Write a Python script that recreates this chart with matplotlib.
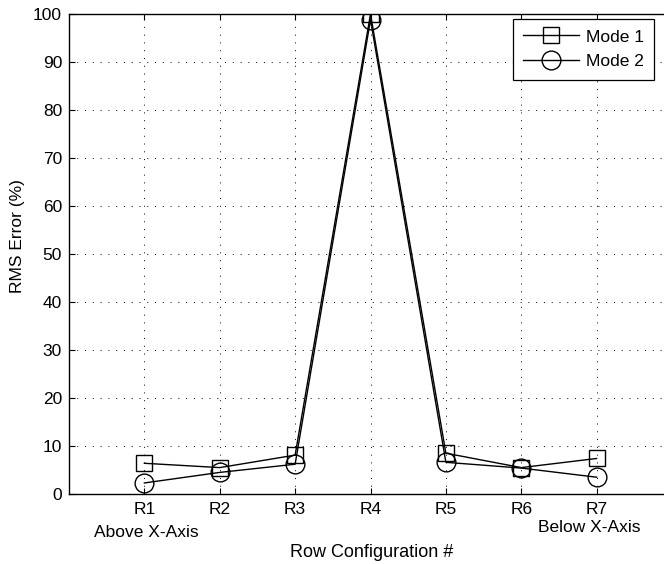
import numpy as np
import matplotlib.pyplot as plt

# RMS error for each row configuration
rows = ['R1', 'R2', 'R3', 'R4', 'R5', 'R6', 'R7']
mode1 = [6.4, 5.5, 8.1, 100.0, 8.5, 5.5, 7.4]
mode2 = [2.3, 4.5, 6.2, 98.8, 6.6, 5.4, 3.5]

plt.rcParams['font.family'] = ['Liberation Sans', 'DejaVu Sans']
plt.rcParams['font.size'] = 12.5

fig = plt.figure(figsize=(6.64, 5.64), dpi=100)
# axes run a little past the right edge of the figure
ax = fig.add_axes([69 / 664, 1 - 494 / 564, 603 / 664, 480 / 564])

x = np.arange(1, len(rows) + 1)
ax.plot(x, mode1, color='black', lw=1.0, marker='s', ms=11,
        mfc='none', mec='black', mew=1.0, label='Mode 1')
ax.plot(x, mode2, color='black', lw=1.0, marker='o', ms=13.5,
        mfc='none', mec='black', mew=1.0, label='Mode 2')

ax.set_xlim(0, 8)
ax.set_ylim(0, 100)
ax.set_xticks(x)
ax.set_xticklabels(rows)
ax.set_yticks(np.arange(0, 101, 10))
ax.tick_params(direction='in', top=True, right=True, length=4, width=0.8)
ax.tick_params(axis='x', pad=6)
ax.tick_params(axis='y', pad=5)
ax.grid(True, color='black', linestyle=(0, (1, 7)), linewidth=0.7)
for s in ax.spines.values():
    s.set_linewidth(1.0)

ax.set_ylabel('RMS Error (%)', va='center')
ax.yaxis.set_label_coords(-0.0862, 0.5375)
ax.set_xlabel('Row Configuration #', va='center', fontsize=13)
ax.xaxis.set_label_coords(0.5025, -0.121)

trans = ax.get_xaxis_transform()
ax.text(1.03, -0.08, 'Above X-Axis', transform=trans, ha='center', va='center')
ax.text(6.9, -0.07, 'Below X-Axis', transform=trans, ha='center', va='center')

leg = ax.legend(loc='upper right', bbox_to_anchor=(654 / 664, 1 - 19 / 564),
                bbox_transform=fig.transFigure, fancybox=False, framealpha=1,
                edgecolor='black', handlelength=3.2, handletextpad=0.4,
                labelspacing=0.55, borderpad=0.6, borderaxespad=0)
leg.get_frame().set_linewidth(0.9)

fig.savefig('out.png', dpi=100)
